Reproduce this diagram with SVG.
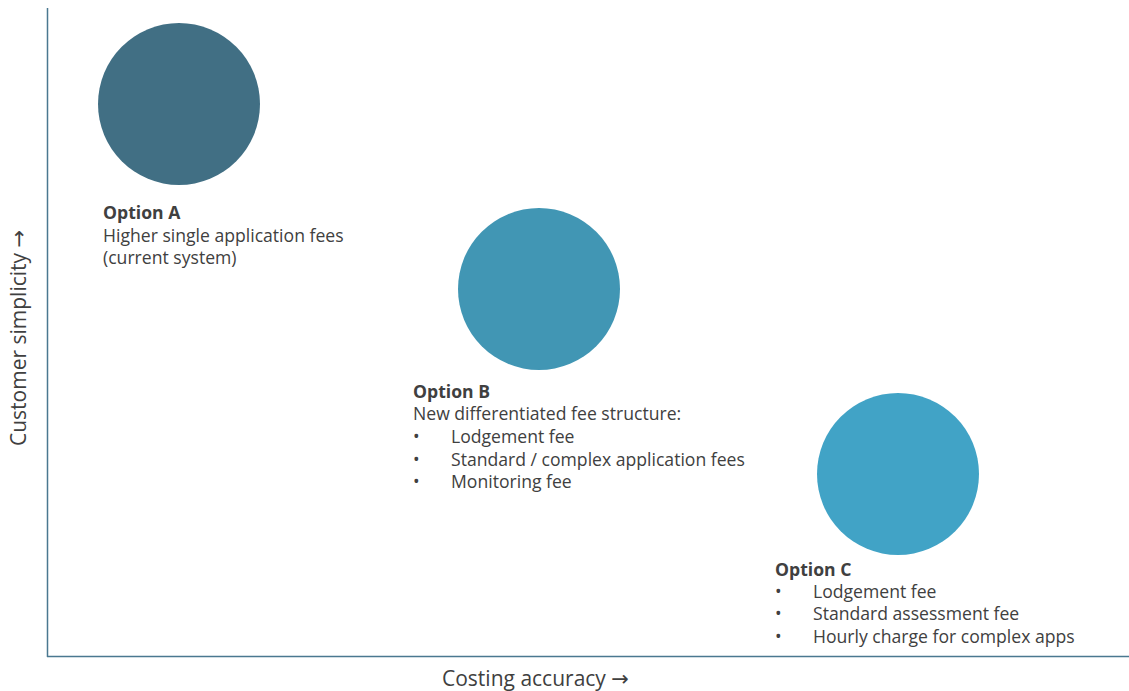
<svg xmlns="http://www.w3.org/2000/svg" width="1129" height="691" viewBox="0 0 1129 691">
<style>
.t{font-family:"Open Sans","Noto Sans","Liberation Sans",sans-serif;font-size:17.6px;fill:#404040}
.b{font-weight:bold}
.ax{font-family:"Open Sans","Noto Sans","Liberation Sans",sans-serif;font-size:21px;fill:#404040}
.ar{font-family:"DejaVu Sans",sans-serif;font-size:21px}
.axis{stroke:#4a7890;stroke-width:1.5;fill:none}
</style>
<rect width="1129" height="691" fill="#ffffff"/>
<g id="axes">
<line class="axis" x1="47.5" y1="8" x2="47.5" y2="657"/>
<line class="axis" x1="47" y1="656.5" x2="1129" y2="656.5"/>
<text class="ax" x="442" y="686">Costing accuracy <tspan class="ar">→</tspan></text>
<text class="ax" transform="translate(26,446) rotate(-90)">Customer simplicity <tspan class="ar">→</tspan></text>
</g>
<g id="optionA">
<circle cx="179" cy="104" r="81" fill="#416f84"/>
<text class="t b" x="103" y="219">Option A</text>
<text class="t" x="103" y="242">Higher single application fees</text>
<text class="t" x="103" y="264">(current system)</text>
</g>
<g id="optionB">
<circle cx="539" cy="289" r="81" fill="#4196b4"/>
<text class="t b" x="413" y="398">Option B</text>
<text class="t" x="413" y="420">New differentiated fee structure:</text>
<text class="t" x="413" y="443">•</text><text class="t" x="451" y="443">Lodgement fee</text>
<text class="t" x="413" y="466">•</text><text class="t" x="451" y="466">Standard / complex application fees</text>
<text class="t" x="413" y="488">•</text><text class="t" x="451" y="488">Monitoring fee</text>
</g>
<g id="optionC">
<circle cx="898" cy="474" r="81" fill="#41a3c6"/>
<text class="t b" x="775" y="576">Option C</text>
<text class="t" x="775" y="598">•</text><text class="t" x="813" y="598">Lodgement fee</text>
<text class="t" x="775" y="620">•</text><text class="t" x="813" y="620">Standard assessment fee</text>
<text class="t" x="775" y="643">•</text><text class="t" x="813" y="643">Hourly charge for complex apps</text>
</g>
</svg>
